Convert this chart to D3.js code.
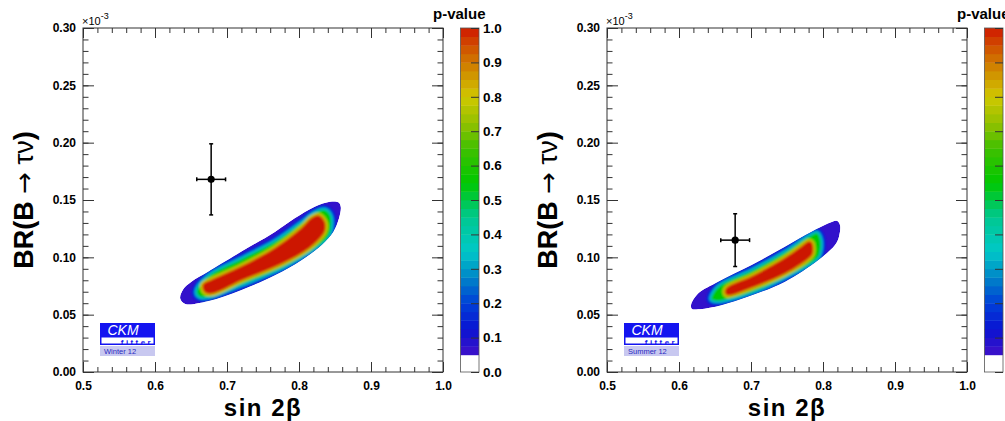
<!DOCTYPE html>
<html>
<head>
<meta charset="utf-8">
<script src="https://cdn.jsdelivr.net/npm/d3@7"></script>
<style>
  body { margin: 0; background: #fff; }
  svg { display: block; }
  text { font-family: "Liberation Sans", Arial, sans-serif; }
</style>
</head>
<body>
<svg id="chart" width="1005" height="421"></svg>
<script>
// axis ticks
const xTicks = [0.5, 0.6, 0.7, 0.8, 0.9, 1.0];
const yTicks = [0.00, 0.05, 0.10, 0.15, 0.20, 0.25, 0.30];
const zTicks = [0.0, 0.1, 0.2, 0.3, 0.4, 0.5, 0.6, 0.7, 0.8, 0.9, 1.0];

// panels
const panelNames = ["Winter 12", "Summer 12"];

// direct measurement (sin2b, BR in 1e-3)
const measX = [0.678, 0.678];
const measXErr = [0.020, 0.020];
const measY = [0.168, 0.115];
const measYErr = [0.031, 0.023];

// contours: outer edge (p=0.05), mid (~0.45), core (~0.9)
const winterOuter = [[0.635, 0.064], [0.639, 0.072], [0.651, 0.079], [0.674, 0.0875], [0.720, 0.105],
  [0.767, 0.1224], [0.794, 0.134], [0.822, 0.1442], [0.843, 0.1485], [0.8546, 0.148], [0.858, 0.1442],
  [0.8556, 0.134], [0.8476, 0.1224], [0.8315, 0.1108], [0.8037, 0.0977], [0.767, 0.0846],
  [0.720, 0.0715], [0.674, 0.0619], [0.642, 0.0593]];
const winterMid = [[0.658, 0.070], [0.674, 0.0831], [0.720, 0.0983], [0.767, 0.1136], [0.8037, 0.1297],
  [0.822, 0.1384], [0.835, 0.1413], [0.843, 0.1369], [0.8444, 0.1267], [0.840, 0.118], [0.822, 0.1084],
  [0.7806, 0.0927], [0.720, 0.0765], [0.674, 0.0657], [0.6625, 0.0657]];
const winterCore = [[0.667, 0.0759], [0.679, 0.0802], [0.720, 0.0918], [0.767, 0.1079], [0.8037, 0.1253],
  [0.8176, 0.134], [0.8268, 0.1363], [0.8351, 0.1311], [0.8361, 0.1253], [0.8338, 0.121], [0.8129, 0.1079],
  [0.776, 0.0948], [0.720, 0.0802], [0.679, 0.0686], [0.6694, 0.070]];

const summerOuter = [[0.6167, 0.0584], [0.6268, 0.0686], [0.6546, 0.0787], [0.701, 0.0933], [0.7472, 0.1093],
  [0.7843, 0.1223], [0.8074, 0.1297], [0.819, 0.1319], [0.8236, 0.1282], [0.8222, 0.118], [0.8167, 0.1108],
  [0.7935, 0.0977], [0.7472, 0.0788], [0.701, 0.0669], [0.6546, 0.0576], [0.6268, 0.0547], [0.618, 0.055]];
const summerMid = [[0.6454, 0.0634], [0.6546, 0.0739], [0.701, 0.0881], [0.7472, 0.104], [0.7796, 0.1175],
  [0.7913, 0.121], [0.7958, 0.1166], [0.7958, 0.1049], [0.7913, 0.0992], [0.7472, 0.0831],
  [0.701, 0.070], [0.6546, 0.0622]];
const summerCore = [[0.6649, 0.0686], [0.6663, 0.073], [0.701, 0.0831], [0.7472, 0.0992], [0.7704, 0.1093],
  [0.7806, 0.1136], [0.7843, 0.1122], [0.7851, 0.1035], [0.7819, 0.1005], [0.7472, 0.0861],
  [0.701, 0.0739], [0.6685, 0.0671]];

const outers = [winterOuter, summerOuter];
const mids = [winterMid, summerMid];
const cores = [winterCore, summerCore];

// ROOT-like rainbow palette
const palStops = [0.05, 0.125, 0.2, 0.27, 0.35, 0.45, 0.55, 0.65, 0.72, 0.8, 0.87, 0.93, 1.0];
const palColors = ["#4010c8", "#0a14d2", "#0040d8", "#0080c8", "#00c8c8", "#00c890", "#00c800",
  "#40c000", "#90c000", "#d0c800", "#d09000", "#d06000", "#d01800"];
const palette = d3.scaleLinear().domain(palStops).range(palColors).interpolate(d3.interpolateRgb).clamp(true);

const svg = d3.select("#chart");
const defs = svg.append("defs");
defs.append("filter").attr("id", "soft").attr("x", "-10%").attr("y", "-10%").attr("width", "120%").attr("height", "120%")
  .append("feGaussianBlur").attr("stdDeviation", 0.9);

const frame = { left: 83, width: 360, top: 28, bottom: 372 };
const panelShift = 524;

function drawPanel(i) {
  const g = svg.append("g").attr("transform", "translate(" + (i * panelShift) + ",0)");
  const x = d3.scaleLinear().domain([0.5, 1.0]).range([frame.left, frame.left + frame.width]);
  const y = d3.scaleLinear().domain([0, 0.3]).range([frame.bottom, frame.top]);

  const shape = d3.line().x(d => x(d[0])).y(d => y(d[1])).curve(d3.curveCatmullRomClosed.alpha(0.5));

  // contour, all bands clipped to the outer p=0.05 edge
  const clipId = "clip" + i;
  defs.append("clipPath").attr("id", clipId).append("path").attr("d", shape(outers[i]));
  const clipped = g.append("g").attr("clip-path", "url(#" + clipId + ")");

  clipped.append("path").attr("d", shape(outers[i])).attr("fill", palette(0.07));
  const soft = clipped.append("g").attr("filter", "url(#soft)");
  soft.append("path").attr("d", shape(mids[i])).attr("fill", "none")
    .attr("stroke", palette(0.16)).attr("stroke-width", 10).attr("stroke-linejoin", "round");
  soft.append("path").attr("d", shape(mids[i])).attr("fill", "none")
    .attr("stroke", palette(0.33)).attr("stroke-width", 5).attr("stroke-linejoin", "round");
  soft.append("path").attr("d", shape(mids[i])).attr("fill", palette(0.55));
  soft.append("path").attr("d", shape(cores[i])).attr("fill", "none")
    .attr("stroke", palette(0.78)).attr("stroke-width", 6).attr("stroke-linejoin", "round");
  soft.append("path").attr("d", shape(cores[i])).attr("fill", "none")
    .attr("stroke", palette(0.88)).attr("stroke-width", 2.5).attr("stroke-linejoin", "round");
  soft.append("path").attr("d", shape(cores[i])).attr("fill", "#cc1400");

  // measurement with error bars
  const m = g.append("g").attr("stroke", "#000").attr("stroke-width", 1.5);
  const cx = x(measX[i]), cy = y(measY[i]);
  const x0 = x(measX[i] - measXErr[i]), x1 = x(measX[i] + measXErr[i]);
  const y0 = y(measY[i] - measYErr[i]), y1 = y(measY[i] + measYErr[i]);
  m.append("line").attr("x1", x0).attr("x2", x1).attr("y1", cy).attr("y2", cy);
  m.append("line").attr("x1", cx).attr("x2", cx).attr("y1", y0).attr("y2", y1);
  m.append("line").attr("x1", x0).attr("x2", x0).attr("y1", cy - 2).attr("y2", cy + 2);
  m.append("line").attr("x1", x1).attr("x2", x1).attr("y1", cy - 2).attr("y2", cy + 2);
  m.append("line").attr("x1", cx - 2).attr("x2", cx + 2).attr("y1", y0).attr("y2", y0);
  m.append("line").attr("x1", cx - 2).attr("x2", cx + 2).attr("y1", y1).attr("y2", y1);
  g.append("circle").attr("cx", cx).attr("cy", cy).attr("r", 3.6).attr("fill", "#000");

  // axes: ticks on all four sides, pointing inward
  const xMinor = d3.range(0, 26).map(k => 0.5 + k * 0.02);
  const yMinor = d3.range(0, 31).map(k => k * 0.01);
  const axes = g.append("g");
  const put = (axis, tx, ty) => {
    const a = axes.append("g").attr("transform", "translate(" + tx + "," + ty + ")").call(axis);
    a.select(".domain").remove();
    a.selectAll(".tick line").attr("stroke", "#333");
    return a;
  };
  put(d3.axisBottom(x).tickValues(xTicks).tickSize(-10).tickPadding(9).tickFormat(d3.format(".1f")), 0, frame.bottom);
  put(d3.axisBottom(x).tickValues(xMinor).tickSize(-5).tickFormat(""), 0, frame.bottom);
  put(d3.axisTop(x).tickValues(xTicks).tickSize(-10).tickFormat(""), 0, frame.top);
  put(d3.axisTop(x).tickValues(xMinor).tickSize(-5).tickFormat(""), 0, frame.top);
  put(d3.axisLeft(y).tickValues(yTicks).tickSize(-11).tickPadding(7).tickFormat(d3.format(".2f")), frame.left, 0);
  put(d3.axisLeft(y).tickValues(yMinor).tickSize(-5.5).tickFormat(""), frame.left, 0);
  put(d3.axisRight(y).tickValues(yTicks).tickSize(-11).tickFormat(""), frame.left + frame.width, 0);
  put(d3.axisRight(y).tickValues(yMinor).tickSize(-5.5).tickFormat(""), frame.left + frame.width, 0);
  axes.selectAll(".tick text").attr("font-family", "Liberation Sans, Arial, sans-serif")
    .attr("font-size", 12).attr("font-weight", "bold").attr("fill", "#000");

  g.append("rect").attr("x", frame.left).attr("y", frame.top).attr("width", frame.width)
    .attr("height", frame.bottom - frame.top).attr("fill", "none").attr("stroke", "#333").attr("stroke-width", 1);

  // exponent
  const ex = g.append("text").attr("x", frame.left - 1).attr("y", 25).attr("font-size", 11).text("\u00d710");
  ex.append("tspan").attr("dy", -6).attr("font-size", 9).text("-3");

  // titles
  const yt = g.append("text").attr("transform", "translate(33,200) rotate(-90)")
    .attr("text-anchor", "middle").attr("font-size", 27).attr("font-weight", "bold");
  yt.append("tspan").text("BR(B ");
  yt.append("tspan").attr("font-family", "DejaVu Sans").attr("font-weight", "normal").attr("font-size", 26).text("\u2192");
  yt.append("tspan").attr("font-weight", "normal").text(" \u03c4\u03bd");
  yt.append("tspan").text(")");
  g.append("text").attr("x", frame.left + frame.width / 2).attr("y", 416).attr("text-anchor", "middle")
    .attr("font-size", 24).attr("font-weight", "bold").attr("letter-spacing", 1.5).text("sin 2\u03b2");

  // colour bar
  const z = d3.scaleLinear().domain([0, 1]).range([frame.bottom, frame.top]);
  const cbx = 460.5, cbw = 18.5;
  const bands = d3.range(2, 40).map(k => k * 0.025);
  const cb = g.append("g");
  cb.append("rect").attr("x", cbx).attr("y", z(0.05)).attr("width", cbw).attr("height", z(0) - z(0.05)).attr("fill", "#fff");
  cb.selectAll("rect.band").data(bands).join("rect").attr("class", "band")
    .attr("x", cbx).attr("width", cbw)
    .attr("y", d => z(d + 0.025)).attr("height", d => z(d) - z(d + 0.025) + 0.4)
    .attr("fill", d => palette(d + 0.0125));
  cb.append("rect").attr("x", cbx).attr("y", frame.top).attr("width", cbw).attr("height", frame.bottom - frame.top)
    .attr("fill", "none").attr("stroke", "#555").attr("stroke-width", 0.8);
  // right panel's labels fall outside the picture, as in the original
  const za = cb.append("g").attr("transform", "translate(" + (cbx + cbw) + ",0)")
    .call(d3.axisRight(z).tickValues(zTicks).tickSize(-8).tickPadding(4)
      .tickFormat(i === 0 ? d3.format(".1f") : ""));
  za.select(".domain").remove();
  za.selectAll(".tick line").attr("stroke", "#333");
  za.selectAll(".tick text").attr("font-family", "Liberation Sans, Arial, sans-serif")
    .attr("font-size", 13.5).attr("font-weight", "bold").attr("fill", "#000");
  g.append("text").attr("x", 433).attr("y", 19).attr("font-size", 15).attr("font-weight", "bold").text("p-value");

  // CKMfitter logo
  const lg = g.append("g").attr("transform", "translate(100,323)");
  lg.append("rect").attr("width", 55).attr("height", 22).attr("fill", "#1414f0");
  lg.append("text").attr("x", 23).attr("y", 11.5).attr("text-anchor", "middle").attr("font-size", 14)
    .attr("font-style", "italic").attr("fill", "#fff").text("CKM");
  lg.append("rect").attr("x", 1.5).attr("y", 14.5).attr("width", 52).attr("height", 6).attr("fill", "#fff");
  lg.append("text").attr("x", 53).attr("y", 21.5).attr("text-anchor", "end").attr("font-size", 8)
    .attr("font-weight", "bold").attr("letter-spacing", 2.4).attr("fill", "#1414f0").text("fitter");
  lg.append("rect").attr("y", 23).attr("width", 55).attr("height", 10).attr("fill", "#c8c8f0");
  lg.append("text").attr("x", 4).attr("y", 31).attr("font-size", 7.5).attr("fill", "#2828c0").text(panelNames[i]);
}

drawPanel(0);
drawPanel(1);
</script>
</body>
</html>
